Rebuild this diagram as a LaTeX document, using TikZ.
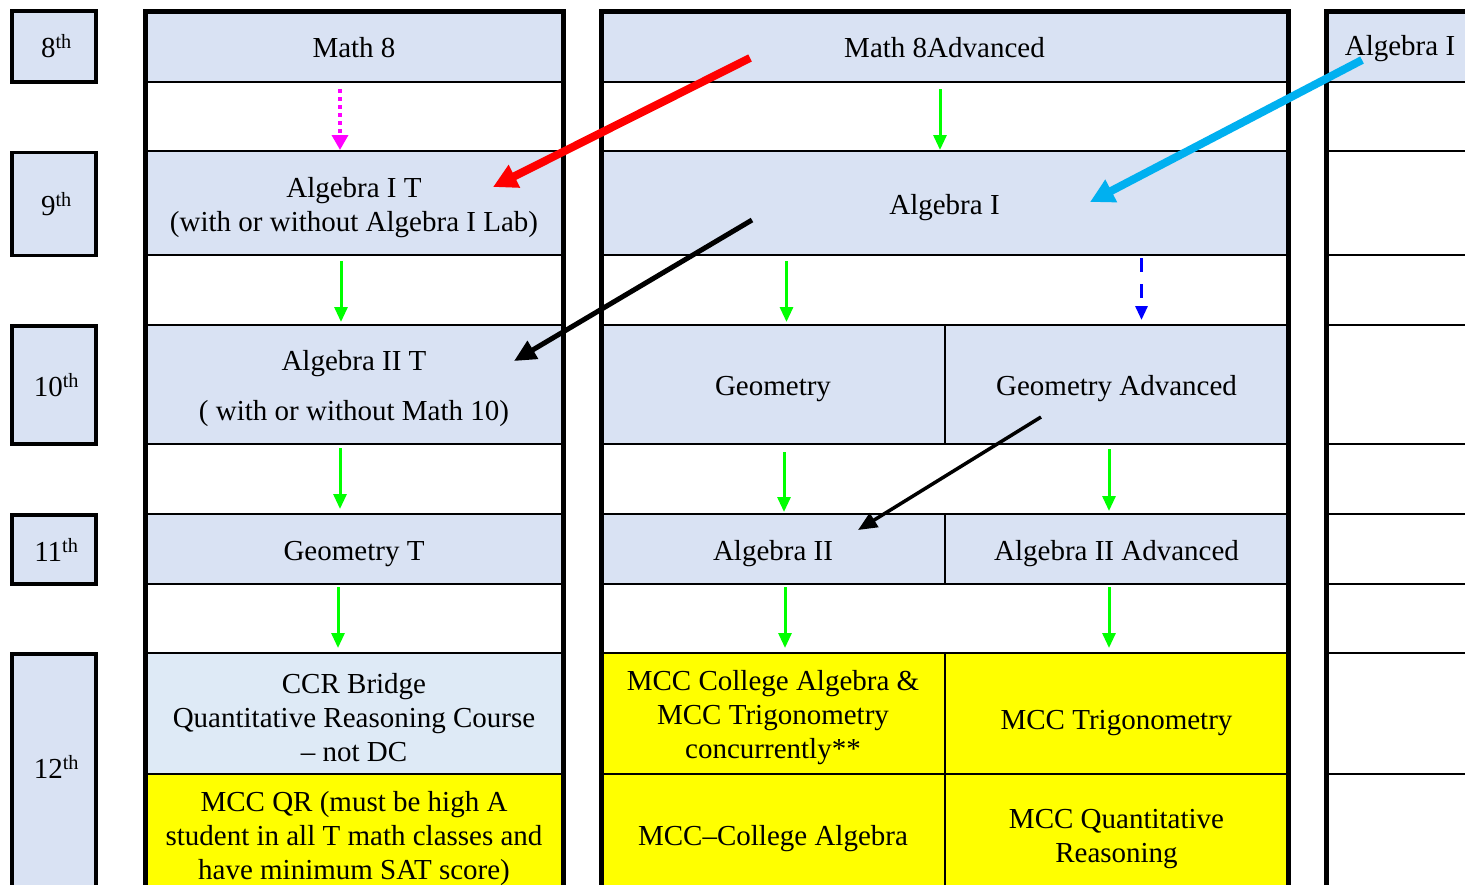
\documentclass[tikz,border=0pt]{standalone}
\usepackage{fontspec}
\setmainfont{Liberation Serif}
\usetikzlibrary{arrows.meta,calc}
\definecolor{cellblue}{HTML}{D9E2F3}
\definecolor{ccrblue}{HTML}{DEEAF6}
\definecolor{mccyellow}{HTML}{FFFF00}
\definecolor{arrgreen}{HTML}{00FF00}
\definecolor{arrcyan}{HTML}{00B0F0}
\definecolor{arrred}{HTML}{FF0000}
\definecolor{arrmag}{HTML}{FF00FF}
\definecolor{arrblue}{HTML}{0000FF}
\newcommand{\cellstrut}{\rule[-6.3pt]{0pt}{34.6pt}}
\newcommand{\multistrut}{\rule{0pt}{28.5pt}}
\begin{document}
\begin{tikzpicture}[x=1pt,y=-1pt,
  every node/.style={font=\fontsize{29}{34}\selectfont},
  cell/.style={draw=black, line width=2pt, fill=cellblue, inner sep=0pt, align=center},
  single/.style={execute at begin node=\cellstrut, execute at end node=\cellstrut},
  yell/.style={cell, fill=mccyellow},
  grade/.style={draw=black, line width=3.5pt, fill=cellblue, inner sep=0pt},
  colborder/.style={line width=5pt, line join=miter},
  flow/.style={draw=arrgreen, line width=3pt, -{Triangle[length=15pt,width=13pt]}},
  bigarrow/.style={line width=8pt, -{Triangle[length=24pt,width=24pt]}}
]
\useasboundingbox (0,0) rectangle (1465,884);
\fill[white] (0,0) rectangle (1465,884);

% left column
\node[cell, single, minimum width=418pt, minimum height=70.5pt] (m8) at (354,46.75) {Math 8};
\node[cell, minimum width=418pt, minimum height=104pt] (a1t) at (354,203) {\multistrut Algebra I T\\(with or without Algebra I Lab)};
\node[cell, minimum width=418pt, minimum height=119pt] (a2t) at (354,384.5) {\multistrut Algebra II T\\[16pt]( with or without Math 10)};
\node[cell, single, minimum width=418pt, minimum height=70pt] (geot) at (354,549) {Geometry T};
\node[cell, fill=ccrblue, minimum width=418pt, minimum height=121pt] (ccr) at (354,713.5) {\multistrut CCR Bridge\\Quantitative Reasoning Course\\– not DC};
\node[yell, minimum width=418pt, minimum height=120pt] (qr) at (354,834) {\multistrut MCC QR (must be high A\\student in all T math classes and\\have minimum SAT score)};

% middle column
\node[cell, single, minimum width=687pt, minimum height=70.5pt] (m8a) at (944.5,46.75) {Math 8Advanced};
\node[cell, single, minimum width=687pt, minimum height=104pt] (a1) at (944.5,203) {Algebra I};
\node[cell, single, minimum width=344pt, minimum height=119pt] (geo) at (773,384.5) {Geometry};
\node[cell, single, minimum width=343pt, minimum height=119pt] (geoa) at (1116.5,384.5) {Geometry Advanced};
\node[cell, single, minimum width=344pt, minimum height=70pt] (a2) at (773,549) {Algebra II};
\node[cell, single, minimum width=343pt, minimum height=70pt] (a2a) at (1116.5,549) {Algebra II Advanced};
\node[yell, minimum width=344pt, minimum height=121pt] (mcat) at (773,713.5) {\multistrut MCC College Algebra \&\\MCC Trigonometry\\concurrently**};
\node[yell, single, minimum width=343pt, minimum height=121pt] (mtrig) at (1116.5,713.5) {\raisebox{-9pt}{MCC Trigonometry}};
\node[yell, single, minimum width=344pt, minimum height=120pt] (mca) at (773,834) {MCC–College Algebra};
\node[yell, minimum width=343pt, minimum height=120pt] (mqr) at (1116.5,834) {\multistrut MCC Quantitative\\Reasoning};

% right column
\fill[cellblue] (1326,11.5) rectangle (1480,82);
\node (a1r) at (1400,49) {Algebra I};
\foreach \yy in {82,151,255,325,444,514,584,653,774}
  \draw[line width=2pt] (1326,\yy) -- (1480,\yy);

% column borders
\draw[colborder] (145,900) -- (145,11.5) -- (563,11.5) -- (563,900);
\draw[colborder] (601,900) -- (601,11.5) -- (1288,11.5) -- (1288,900);
\draw[colborder] (1326,900) -- (1326,11.5) -- (1480,11.5);

% grade boxes
\node[grade, minimum width=84pt, minimum height=71pt] (g8) at (54,46.5) {\,8\textsuperscript{th}};
\node[grade, minimum width=84pt, minimum height=103pt] (g9) at (54,204) {\,9\textsuperscript{th}};
\node[grade, minimum width=84pt, minimum height=118pt] (g10) at (54,385) {\,10\textsuperscript{th}};
\node[grade, minimum width=84pt, minimum height=69pt] (g11) at (54,549.5) {\,11\textsuperscript{th}};
\filldraw[fill=cellblue, draw=black, line width=3.5pt, line join=miter] (12,900) -- (12,654) -- (96,654) -- (96,900);
\node (g12) at (54,767) {\,12\textsuperscript{th}};

% vertical progressions
\draw[draw=arrmag, line width=3.5pt, dash pattern=on 4pt off 4pt, -{Triangle[length=15pt,width=16pt]}]
  ($(m8.south)+(-14,6)$) -- ($(a1t.north)+(-14,0)$);
\draw[flow] ($(m8a.south)+(-4.5,6)$) -- ($(a1.north)+(-4.5,0)$);
\draw[flow] ($(a1t.south)+(-13,5)$) -- ($(a2t.north)+(-13,-2)$);
\draw[flow] ($(a2t.south)+(-14,3)$) -- ($(geot.north)+(-14,-4)$);
\draw[flow] ($(geot.south)+(-16,2)$) -- ($(ccr.north)+(-16,-4)$);
\draw[flow] ($(a1.south)+(-158,5)$) -- ($(geo.north)+(13.5,-2)$);
\draw[draw=arrblue, line width=3pt, dash pattern=on 14pt off 12pt, -{Triangle[length=14pt,width=12pt]}]
  ($(a1.south)+(197,2)$) -- ($(geoa.north)+(25,-4)$);
\draw[flow] ($(geo.south)+(11,7)$) -- ($(a2.north)+(11,-1)$);
\draw[flow] ($(geoa.south)+(-7.5,4)$) -- ($(a2a.north)+(-7.5,-2)$);
\draw[flow] ($(a2.south)+(12,2)$) -- ($(mcat.north)+(12,-4)$);
\draw[flow] ($(a2a.south)+(-7.5,2)$) -- ($(mtrig.north)+(-7.5,-4)$);

% diagonal arrows
\draw[bigarrow, draw=arrred, fill=arrred] ($(m8a.center)+(-194.5,11.25)$) -- ($(a1t.center)+(139,-16)$);
\draw[bigarrow, draw=arrcyan, fill=arrcyan] ($(a1r.center)+(-38,11)$) -- ($(a1.center)+(145.5,-1)$);
\draw[line width=5pt, -{Triangle[length=22pt,width=20pt]}] ($(a1.center)+(-192.5,17)$) -- ($(a2t.center)+(160,-23.5)$);
\draw[line width=3.5pt, -{Triangle[length=19pt,width=16pt]}] ($(geoa.center)+(-75.5,32.5)$) -- ($(a2.center)+(85,-19)$);
\end{tikzpicture}
\end{document}
